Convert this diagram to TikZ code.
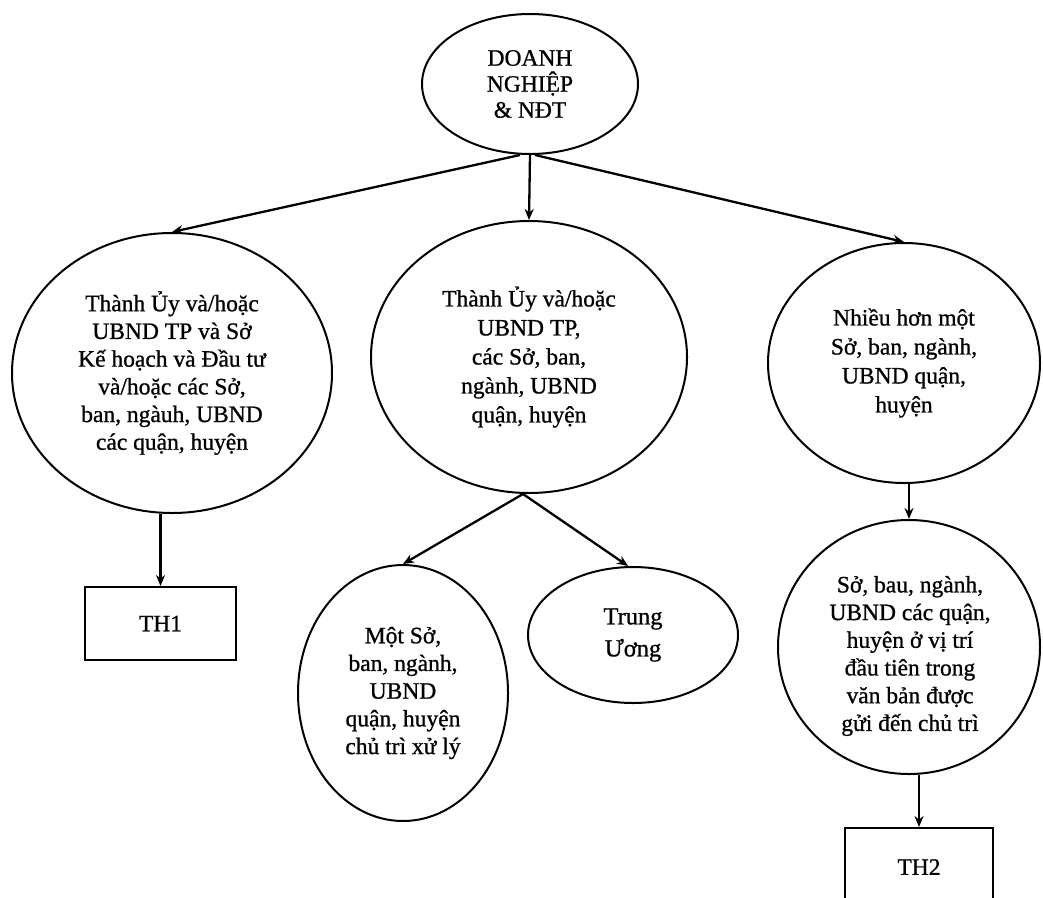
\documentclass[tikz,border=0pt]{standalone}
\usepackage{fontspec}
\setmainfont[FakeBold=0.9]{Liberation Serif}
\usetikzlibrary{shapes.geometric,arrows.meta}
\begin{document}
\begin{tikzpicture}[x=1pt,y=-1pt,
  every node/.style={align=center, inner sep=0pt},
  ell/.style={draw, ellipse, line width=2pt},
  boxnode/.style={draw, rectangle, line width=2pt},
  arr/.style={line width=2.3pt, -{Stealth[length=11pt,width=9pt]}},
  fa/.style={font=\fontsize{23.5}{26}\selectfont},
  fb/.style={font=\fontsize{23.5}{27.7}\selectfont},
  fc/.style={font=\fontsize{23.5}{29}\selectfont},
  fd/.style={font=\fontsize{24.5}{32}\selectfont}
]
\useasboundingbox (0,0) rectangle (1043,897);
\clip (0,0) rectangle (1043,897);

\node[ell, fa, minimum width=216, minimum height=140] (top) at (530,84) {DOANH\\NGHIỆP\\\& NĐT};

\node[ell, fb, minimum width=320, minimum height=280] (left) at (172,373)
  {Thành Ủy và/hoặc\\UBND TP và Sở\\Kế hoạch và Đầu tư\\và/hoặc các Sở,\\ban, ngàuh, UBND\\các quận, huyện};

\node[ell, fc, minimum width=316, minimum height=272] (mid) at (529,357)
  {Thành Ủy và/hoặc\\UBND TP,\\các Sở, ban,\\ngành, UBND\\quận, huyện};

\node[ell, fc, minimum width=272, minimum height=240] (right) at (904,363)
  {Nhiều hơn một\\Sở, ban, ngành,\\UBND quận,\\huyện};

\node[boxnode, fb, minimum width=151, minimum height=73] (th1) at (160.5,623.5) {TH1};

\node[ell, fb, minimum width=210, minimum height=256] (mot) at (403,693)
  {Một Sở,\\ban, ngành,\\UBND\\quận, huyện\\chủ trì xử lý};

\node[ell, fd, minimum width=210, minimum height=136] (tw) at (633,635) {Trung\\Ương};

\node[ell, minimum width=262, minimum height=254] (circ) at (909,647) {};
\node[fb] (circtxt) at (910,656)
  {Sở, bau, ngành,\\UBND các quận,\\huyện ở vị trí\\đầu tiên trong\\văn bản được\\gửi đến chủ trì};

\node[boxnode, fb, minimum width=148, minimum height=78] (th2) at (919,867) {TH2};

\draw[arr] ([xshift=-10pt]top.south) -- (left.north);
\draw[arr] (top.south) -- (mid.north);
\draw[arr] ([xshift=5pt]top.south) -- (right.north);
\draw[arr] (left.south -| th1.north) -- (th1.north);
\draw[arr] ([xshift=-6pt]mid.south) -- (mot.north);
\draw[arr] ([xshift=-6pt]mid.south) -- ([xshift=-5pt]tw.north);
\draw[arr] (right.south -| circ.north) -- (circ.north);
\draw[arr] (circ.south -| th2.north) -- (th2.north);
\end{tikzpicture}
\end{document}
